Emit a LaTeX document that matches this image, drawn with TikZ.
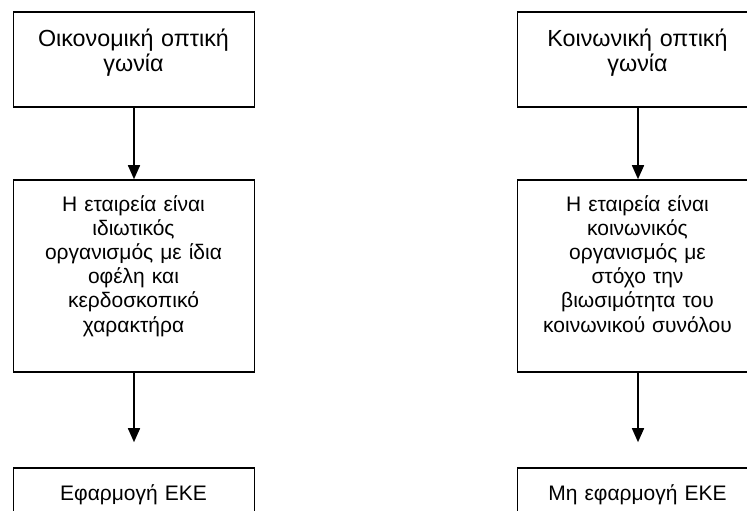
\documentclass[tikz,border=0pt]{standalone}
\usepackage{fontspec}
\setmainfont{Liberation Sans}
\usetikzlibrary{arrows.meta}
\begin{document}
\begin{tikzpicture}[x=1pt,y=-1pt,
  box/.style={draw=black, line width=1.6pt, minimum width=241pt, inner sep=0pt},
  headtext/.style={font=\fontsize{23.3}{25}\selectfont, text width=230pt, align=center, inner sep=0pt, anchor=base},
  bodytext/.style={font=\fontsize{21}{24.2}\selectfont, text width=230pt, align=center, inner sep=0pt, anchor=base},
  flow/.style={line width=1.6pt, -{Triangle[width=12pt,length=14pt]}}]
\useasboundingbox (0,0) rectangle (747,511);
\clip (0,0) rectangle (747,511);
\fill[white] (0,0) rectangle (747,511);

% left column: economic view
\node[box, minimum height=95pt]  (l1) at (134,59.5) {};
\node[box, minimum height=192pt] (l2) at (134,276) {};
\node[box, minimum height=95pt]  (l3) at (134,515.5) {};
\node[headtext] (l1t) at (133.5,46.7) {Οικονομική οπτική\\γωνία};
\node[bodytext] (l2t) at (133.5,211) {Η εταιρεία είναι\\ιδιωτικός\\οργανισμός με ίδια\\οφέλη και\\κερδοσκοπικό\\χαρακτήρα};
\node[bodytext] (l3t) at (133.5,500) {Εφαρμογή ΕΚΕ};
\draw[flow] (l1) -- (l2);
\draw[flow, shorten >=25pt] (l2) -- (l3);

% right column: social view
\node[box, minimum height=95pt]  (r1) at (638,59.5) {};
\node[box, minimum height=192pt] (r2) at (638,276) {};
\node[box, minimum height=95pt]  (r3) at (638,515.5) {};
\node[headtext] (r1t) at (637.5,46.7) {Κοινωνική οπτική\\γωνία};
\node[bodytext] (r2t) at (637.5,211) {Η εταιρεία είναι\\κοινωνικός\\οργανισμός με\\στόχο την\\βιωσιμότητα του\\κοινωνικού συνόλου};
\node[bodytext] (r3t) at (637.5,500) {Μη εφαρμογή ΕΚΕ};
\draw[flow] (r1) -- (r2);
\draw[flow, shorten >=25pt] (r2) -- (r3);
\end{tikzpicture}
\end{document}
